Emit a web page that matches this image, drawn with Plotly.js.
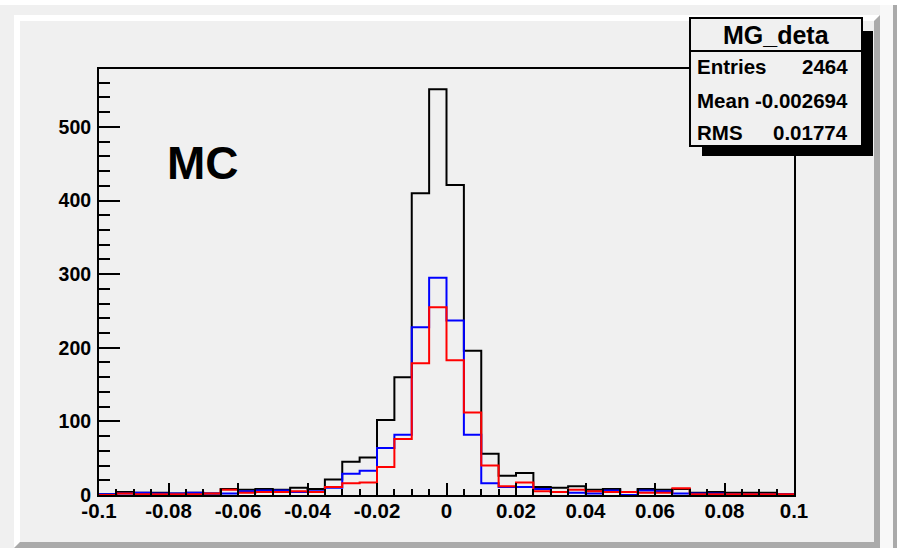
<!DOCTYPE html>
<html>
<head>
<meta charset="utf-8">
<script src="https://cdn.plot.ly/plotly-3.0.1.min.js"></script>
<style>
html,body{margin:0;padding:0;background:#f0f0f0;}
#chart{width:897px;height:548px;}
</style>
</head>
<body>
<div id="chart"></div>
<script>
// Histogram "MG_deta": 40 bins from -0.1 to 0.1 (bin width 0.005)
const binLowEdges = [-0.1,-0.095,-0.09,-0.085,-0.08,-0.075,-0.07,-0.065,-0.06,-0.055,
  -0.05,-0.045,-0.04,-0.035,-0.03,-0.025,-0.02,-0.015,-0.01,-0.005,
  0,0.005,0.01,0.015,0.02,0.025,0.03,0.035,0.04,0.045,
  0.05,0.055,0.06,0.065,0.07,0.075,0.08,0.085,0.09,0.095];
const xMax = 0.1;

const blackCounts = [1,4,3,3,2,3,2,8,7,8, 7,10,8,21,45,51,102,160,410,551,
  421,196,56,26,30,11,10,12,7,8, 4,8,7,8,3,4,3,3,3,1];
const blueCounts = [1,2,3,2,2,3,2,2,5,6, 6,4,5,10,29,33,64,82,228,295,
  237,82,16,11,11,8,4,3,2,6, 0,6,5,2,2,2,1,1,1,1];
const redCounts = [0,2,1,1,1,1,2,7,3,4, 4,5,4,11,16,17,38,76,179,255,
  183,112,40,12,17,5,4,7,5,4, 4,3,3,9,1,1,1,1,1,1];

const xTickVals = [-0.1,-0.08,-0.06,-0.04,-0.02,0,0.02,0.04,0.06,0.08,0.1];
const xTickText = ["-0.1","-0.08","-0.06","-0.04","-0.02","0","0.02","0.04","0.06","0.08","0.1"];
const yTickVals = [0,100,200,300,400,500];
const yTickText = ["0","100","200","300","400","500"];

const statsTitle = "MG_deta";
const statsRows = [["Entries","2464"],["Mean","-0.002694"],["RMS","0.01774"]];
const padLabel = "MC";

function stepTrace(counts, color){
  const xs = binLowEdges.concat([xMax]);
  const ys = counts.concat([counts[counts.length-1]]);
  return {x: xs, y: ys, type:'scatter', mode:'lines',
    line:{shape:'hv', color:color, width:2}, hoverinfo:'skip', showlegend:false};
}

// pixel -> paper helpers (plot area: x 99..794, y 69..495)
const L=99, R=794, T=69, B=495;
const W=R-L, H=B-T;
const px = x => (x-L)/W;
const py = y => (B-y)/H;

const FONT = "Liberation Sans, Arial, Helvetica, sans-serif";

const shapes = [
  {type:'rect', xref:'paper', yref:'paper', x0:px(0), x1:px(897), y0:py(0), y1:py(5), fillcolor:'#ffffff', line:{width:0}, layer:'below'},
  {type:'path', xref:'paper', yref:'paper', layer:'below', fillcolor:'#ffffff', line:{width:0},
    path:`M ${px(14)} ${py(15)} L ${px(880)} ${py(15)} L ${px(874)} ${py(21)} L ${px(20)} ${py(21)} L ${px(20)} ${py(542)} L ${px(14)} ${py(548)} Z`},
  {type:'path', xref:'paper', yref:'paper', layer:'below', fillcolor:'#aaaaaa', line:{width:0},
    path:`M ${px(880)} ${py(15)} L ${px(880)} ${py(548)} L ${px(14)} ${py(548)} L ${px(20)} ${py(542)} L ${px(874)} ${py(542)} L ${px(874)} ${py(21)} Z`},
  {type:'rect', xref:'paper', yref:'paper', x0:px(880), x1:px(893), y0:py(5), y1:py(548), fillcolor:'#f8f8f8', line:{width:0}, layer:'below'},
  {type:'rect', xref:'paper', yref:'paper', x0:px(893), x1:px(897), y0:py(5), y1:py(548), fillcolor:'#aaaaaa', line:{width:0}, layer:'below'},
  {type:'rect', xref:'paper', yref:'paper', x0:px(702), x1:px(873), y0:py(31), y1:py(156), fillcolor:'#000000', line:{width:0}, layer:'above'},
  {type:'rect', xref:'paper', yref:'paper', x0:px(690), x1:px(862), y0:py(18), y1:py(146), fillcolor:'#f0f0f0', line:{width:2, color:'#000'}, layer:'above'},
  {type:'line', xref:'paper', yref:'paper', x0:px(690), x1:px(862), y0:py(51), y1:py(51), line:{width:2, color:'#000'}, layer:'above'}
];

const annotations = [
  {xref:'paper', yref:'paper', x:px(203), y:py(163), text:padLabel, showarrow:false,
    xanchor:'center', yanchor:'middle', font:{family:FONT, size:46, weight:700, color:'#000'}},
  {xref:'paper', yref:'paper', x:px(776), y:py(35), text:statsTitle, showarrow:false,
    xanchor:'center', yanchor:'middle', font:{family:FONT, size:25, weight:700, color:'#000'}}
];
const rowY = [67, 100, 132];
statsRows.forEach((r,i)=>{
  annotations.push({xref:'paper', yref:'paper', x:px(695), y:py(rowY[i]), text:r[0], showarrow:false,
    xanchor:'left', yanchor:'middle', font:{family:FONT, size:20.5, weight:700, color:'#000'}});
  annotations.push({xref:'paper', yref:'paper', x:px(850), y:py(rowY[i]), text:r[1], showarrow:false,
    xanchor:'right', yanchor:'middle', font:{family:FONT, size:20.5, weight:700, color:'#000'}});
});

const layout = {
  width:897, height:548,
  margin:{l:L, r:897-R, t:T, b:548-B, pad:0},
  paper_bgcolor:'#f0f0f0', plot_bgcolor:'#f0f0f0',
  showlegend:false,
  xaxis:{range:[-0.1,0.1], showgrid:false, zeroline:false, showline:true, mirror:true,
    linecolor:'#000', linewidth:2, ticks:'inside', ticklen:12, tickwidth:2, tickcolor:'#000',
    tickvals:xTickVals, ticktext:xTickText, automargin:false, ticklabelstandoff:-4,
    tickfont:{family:FONT, size:20.5, weight:700, color:'#000'},
    minor:{ticks:'inside', ticklen:6, tickwidth:2, tickcolor:'#000', dtick:0.005, tick0:0, showgrid:false}},
  yaxis:{range:[0,578.6], showgrid:false, zeroline:false, showline:true, mirror:true,
    linecolor:'#000', linewidth:2, ticks:'inside', ticklen:21, tickwidth:2, tickcolor:'#000',
    tickvals:yTickVals, ticktext:yTickText, automargin:false, ticklabelstandoff:2,
    tickfont:{family:FONT, size:19.5, weight:700, color:'#000'},
    minor:{ticks:'inside', ticklen:11, tickwidth:2, tickcolor:'#000', dtick:20, tick0:0, showgrid:false}},
  shapes: shapes,
  annotations: annotations
};

Plotly.newPlot('chart', [stepTrace(blackCounts,'#000000'), stepTrace(blueCounts,'#0000ff'), stepTrace(redCounts,'#ff0000')],
  layout, {displayModeBar:false, staticPlot:true});
</script>
</body>
</html>
